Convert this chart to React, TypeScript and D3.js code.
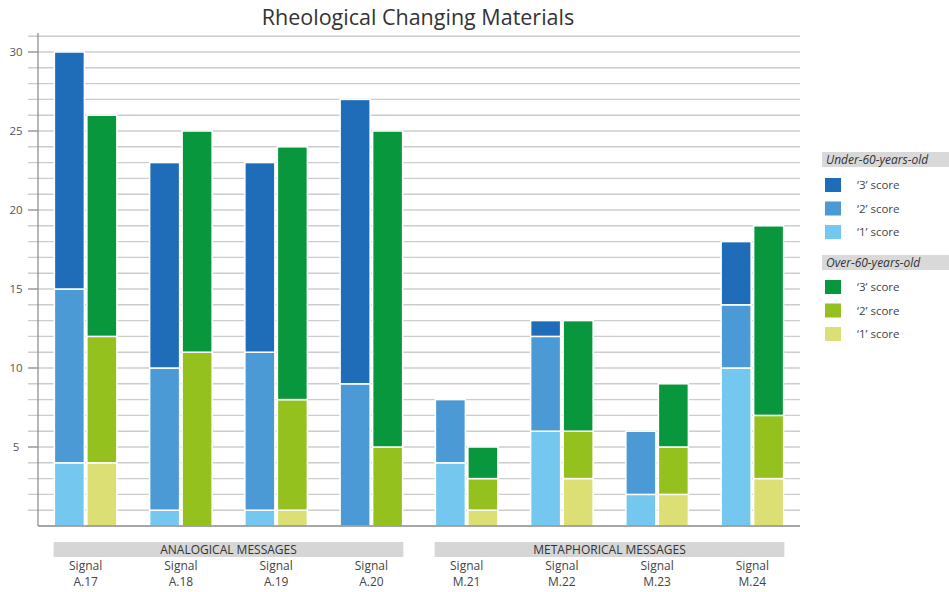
import React from "react";
import * as d3 from "d3";

const signals = ["A.17", "A.18", "A.19", "A.20", "M.21", "M.22", "M.23", "M.24"];
const groupsInfo = ["ANALOGICAL MESSAGES", "METAPHORICAL MESSAGES"];
// Under-60-years-old scores (stack from '1' to '3')
const under1 = [4, 1, 1, 0, 4, 6, 2, 10];
const under2 = [11, 9, 10, 9, 4, 6, 4, 4];
const under3 = [15, 13, 12, 18, 0, 1, 0, 4];
// Over-60-years-old scores
const over1 = [4, 0, 1, 0, 1, 3, 2, 3];
const over2 = [8, 11, 7, 5, 2, 3, 3, 4];
const over3 = [14, 14, 16, 20, 2, 7, 4, 12];
const yTicks = [5, 10, 15, 20, 25, 30];
const legendUnder = ["\u20183\u2019 score", "\u20182\u2019 score", "\u20181\u2019 score"];
const legendOver = ["\u20183\u2019 score", "\u20182\u2019 score", "\u20181\u2019 score"];

const blueColors = ["#74c7ef", "#4b9ad5", "#1f6cb8"];
const greenColors = ["#dbdf74", "#95c11f", "#09973d"];

const W = 949, H = 592;
const FONT = "'Open Sans', Lato, sans-serif";

export default function App() {
  const x0 = 38, x1 = 800, yBase = 526;
  const y = d3.scaleLinear().domain([0, 30]).range([yBase, 52]);
  const xBand = d3.scaleBand().domain(signals).range([x0, x1]).paddingInner(0).paddingOuter(0);
  const barW = 30, gap = 2.5;

  const stackOf = (a: number[][]) =>
    signals.map((s, i) => {
      let acc = 0;
      return a.map((arr, k) => {
        const v0 = acc;
        acc += arr[i];
        return { k, v0, v1: acc };
      });
    });
  const underStacks = stackOf([under1, under2, under3]);
  const overStacks = stackOf([over1, over2, over3]);

  const gridVals = d3.range(1, 32);

  const legendRow = (label: string, color: string, yy: number, key: string) => (
    <g key={key}>
      <rect x={825} y={yy - 7} width={16} height={14} fill={color} />
      <text x={857} y={yy + 4} fontSize={11.5} fill="#444" fontFamily={FONT}>{label}</text>
    </g>
  );

  return (
    <svg width={W} height={H} style={{ position: "absolute", left: 0, top: 0, background: "#fff" }}>
      <text x={418} y={25} textAnchor="middle" fontSize={21.5} fill="#333" fontFamily={FONT}>
        Rheological Changing Materials
      </text>
      {/* gridlines */}
      {gridVals.map((v) => (
        <line key={v} x1={28} x2={x1} y1={y(v)} y2={y(v)} stroke="#cccccc" strokeWidth={1.4} />
      ))}
      {/* y axis */}
      <line x1={x0} x2={x0} y1={33} y2={yBase} stroke="#888" strokeWidth={1.2} />
      {yTicks.map((t) => (
        <g key={t}>
          <line x1={28} x2={x0} y1={y(t)} y2={y(t)} stroke="#999" strokeWidth={1.2} />
          <text x={16} y={y(t) + 4} textAnchor="middle" fontSize={11.5} fill="#555" fontFamily={FONT}>{t}</text>
        </g>
      ))}
      {/* bars */}
      {signals.map((s, i) => {
        const cx = (xBand(s) as number) + xBand.bandwidth() / 2;
        const bx = cx - gap / 2 - barW;
        const gx = cx + gap / 2;
        return (
          <g key={s}>
            {underStacks[i].filter((d) => d.v1 > d.v0).map((d) => (
              <rect key={"u" + d.k} x={bx} y={y(d.v1)} width={barW} height={y(d.v0) - y(d.v1)}
                fill={blueColors[d.k]} stroke="#fff" strokeWidth={1.5} />
            ))}
            {overStacks[i].filter((d) => d.v1 > d.v0).map((d) => (
              <rect key={"o" + d.k} x={gx} y={y(d.v1)} width={barW} height={y(d.v0) - y(d.v1)}
                fill={greenColors[d.k]} stroke="#fff" strokeWidth={1.5} />
            ))}
          </g>
        );
      })}
      {/* x axis */}
      <line x1={x0} x2={x1} y1={yBase} y2={yBase} stroke="#888" strokeWidth={1.5} />
      {/* category group bands */}
      {groupsInfo.map((g, gi) => {
        const first = signals[gi * 4];
        const last = signals[gi * 4 + 3];
        const left = (xBand(first) as number) + xBand.bandwidth() / 2 - 32;
        const right = (xBand(last) as number) + xBand.bandwidth() / 2 + 32;
        return (
          <g key={g}>
            <rect x={left} y={542} width={right - left} height={15} fill="#d6d6d6" />
            <text x={(left + right) / 2} y={554} textAnchor="middle" fontSize={12} fill="#333" fontFamily={FONT}>{g}</text>
          </g>
        );
      })}
      {signals.map((s) => {
        const cx = (xBand(s) as number) + xBand.bandwidth() / 2;
        return (
          <g key={"l" + s}>
            <text x={cx} y={570} textAnchor="middle" fontSize={12} fill="#444" fontFamily={FONT}>Signal</text>
            <text x={cx} y={586} textAnchor="middle" fontSize={12} fill="#444" fontFamily={FONT}>{s}</text>
          </g>
        );
      })}
      {/* legend */}
      <rect x={822} y={152} width={127} height={15} fill="#d9d9d9" />
      <text x={826} y={164} fontSize={12} fontStyle="italic" fill="#333" fontFamily={FONT}>Under-60-years-old</text>
      {legendUnder.map((l, i) => legendRow(l, blueColors[2 - i], 185 + i * 23.5, "u" + i))}
      <rect x={822} y={255} width={127} height={15} fill="#d9d9d9" />
      <text x={826} y={267} fontSize={12} fontStyle="italic" fill="#333" fontFamily={FONT}>Over-60-years-old</text>
      {legendOver.map((l, i) => legendRow(l, greenColors[2 - i], 287 + i * 23.5, "o" + i))}
    </svg>
  );
}
